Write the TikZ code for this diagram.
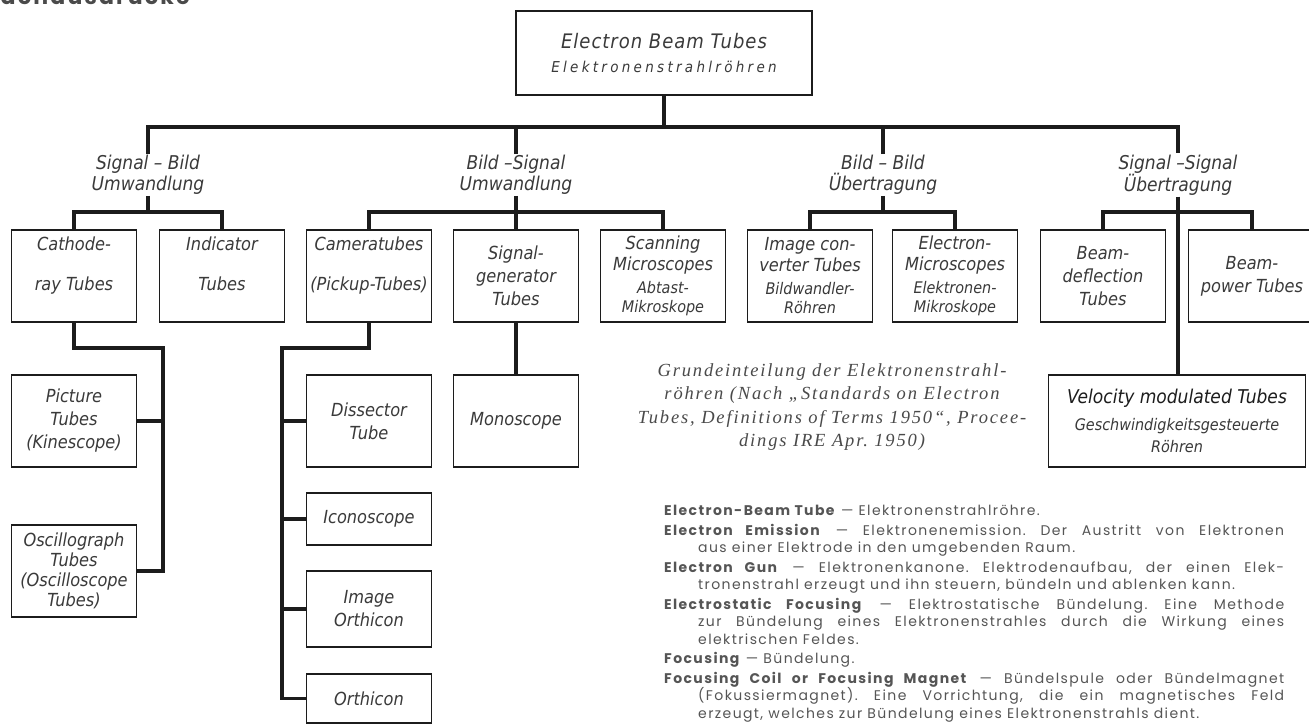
\documentclass[tikz,border=0pt]{standalone}
\usepackage{fontspec}
\newfontfamily\tubefont{DejaVu Sans Condensed}
\newfontfamily\widetube[LetterSpace=22]{DejaVu Sans Condensed}
\newfontfamily\capfont[LetterSpace=10]{Liberation Serif}
\newfontfamily\glossfont[LetterSpace=10]{Poppins}
\definecolor{ink}{HTML}{1C1C1C}
\definecolor{pencil}{HTML}{3A3A3A}
\definecolor{print}{HTML}{4A4A4A}
\definecolor{faint}{HTML}{555555}
\newcommand\smalltube{\fontsize{16}{19}\selectfont}

\begin{document}
\begin{tikzpicture}[x=1pt, y=-1pt,
  tube/.style={draw=ink, line width=1.5pt, align=center, inner sep=2pt,
    minimum width=125pt, minimum height=92pt, text=pencil,
    font=\tubefont\itshape\fontsize{18}{23}\selectfont},
  high/.style={text depth=25pt},
  branch/.style={align=center, inner sep=1pt, text=pencil,
    font=\tubefont\itshape\fontsize{19}{21}\selectfont},
  link/.style={draw=ink, line width=3.5pt},
  note/.style={align=center, text=print, font=\capfont\itshape\fontsize{18.5}{23.3}\selectfont},
  gloss/.style={text width=620pt, align=justify, inner sep=0pt, text=faint,
    font=\glossfont\fontsize{14}{17.5}\selectfont}
]
\fill[white] (0,0) rectangle (1309,724);
\useasboundingbox (0,0) rectangle (1309,724);

\node[anchor=base west, text=print, font=\glossfont\bfseries\fontsize{22}{22}\selectfont] (heading) at (-17,4) {Fachausdrücke};

\node[tube, minimum width=296pt, minimum height=84pt] (root) at (664,53) {{\addfontfeature{LetterSpace=5}\fontsize{20}{24}\selectfont Electron Beam Tubes}\\[1pt]{\widetube\itshape\fontsize{15}{18}\selectfont Elektronenstrahlröhren}};

\node[branch] (sigbild) at (148,175) {Signal – Bild\\Umwandlung};
\node[branch] (bildsig) at (516,175) {Bild –Signal\\Umwandlung};
\node[branch] (bildbild) at (883,175) {Bild – Bild\\Übertragung};
\node[branch] (sigsig) at (1178,175) {Signal –Signal\\Übertragung};

\node[tube, high] (cathode) at (74,276) {Cathode-\\[17pt]ray Tubes};
\node[tube, high] (indicator) at (222,276) {Indicator\\[17pt]Tubes};
\node[tube, high] (camera) at (369,276) {Cameratubes\\[17pt](Pickup-Tubes)};
\node[tube] (siggen) at (516,276) {Signal-\\generator\\Tubes};
\node[tube] (scanning) at (663,276) {Scanning\\[-2pt]Microscopes\\{\smalltube Abtast-}\\[-4pt]{\smalltube Mikroskope}};
\node[tube] (imgconv) at (810,276) {Image con-\\[-2pt]verter Tubes\\{\smalltube Bildwandler-}\\[-4pt]{\smalltube Röhren}};
\node[tube] (elmicro) at (955,276) {Electron-\\[-2pt]Microscopes\\{\smalltube Elektronen-}\\[-4pt]{\smalltube Mikroskope}};
\node[tube] (deflect) at (1103,276) {Beam-\\deflection\\Tubes};
\node[tube, minimum width=127pt] (power) at (1252,276) {Beam-\\power Tubes};

\node[tube] (picture) at (74,421) {Picture\\Tubes\\(Kinescope)};
\node[tube] (oscillo) at (74,571) {Oscillograph\\[-3pt]Tubes\\[-3pt](Oscilloscope\\[-3pt]Tubes)};
\node[tube] (dissector) at (369,421) {Dissector\\Tube};
\node[tube, minimum height=52pt] (icono) at (369,519) {Iconoscope};
\node[tube, minimum height=76pt] (imgorth) at (369,609) {Image\\Orthicon};
\node[tube, minimum height=49pt] (orthicon) at (369,698.5) {Orthicon};
\node[tube] (monoscope) at (516,421) {Monoscope};
\node[tube, minimum width=257pt] (velocity) at (1177,421) {{\color{ink}\fontsize{19}{23}\selectfont Velocity modulated Tubes}\\[4pt]{\fontsize{16}{19}\selectfont Geschwindigkeitsgesteuerte}\\[-1pt]{\fontsize{16}{19}\selectfont Röhren}};

\node[note] (caption) at (832,407) {Grundeinteilung der Elektronenstrahl-\\röhren (Nach „Standards on Electron\\Tubes, Definitions of Terms 1950“, Procee-\\dings IRE Apr.\ 1950)};

\node[gloss, anchor=north west] (terms) at (664,505) {\parindent=0pt\tolerance=10000\hyphenpenalty=10000\parskip=2pt\frenchspacing
\hangindent=34pt\hangafter=1 \textbf{Electron-Beam Tube} — Elektronenstrahlröhre.\par
\hangindent=34pt\hangafter=1 \textbf{Electron Emission} — Elektronenemission. Der Austritt von Elektronen\linebreak aus einer Elektrode in den umgebenden Raum.\par
\hangindent=34pt\hangafter=1 \textbf{Electron Gun} — Elektronenkanone. Elektrodenaufbau, der einen Elek-\linebreak tronenstrahl erzeugt und ihn steuern, bündeln und ablenken kann.\par
\hangindent=34pt\hangafter=1 \textbf{Electrostatic Focusing} — Elektrostatische Bündelung. Eine Methode\linebreak zur Bündelung eines Elektronenstrahles durch die Wirkung eines\linebreak elektrischen Feldes.\par
\hangindent=34pt\hangafter=1 \textbf{Focusing} — Bündelung.\par
\hangindent=34pt\hangafter=1 \textbf{Focusing Coil or Focusing Magnet} — Bündelspule oder Bündelmagnet\linebreak (Fokussiermagnet). Eine Vorrichtung, die ein magnetisches Feld\linebreak erzeugt, welches zur Bündelung eines Elektronenstrahls dient.\par};

\coordinate (bus) at (664,127);
\coordinate (sbj) at (148,212);
\coordinate (bsj) at (516,212);
\coordinate (bbj) at (883,212);
\coordinate (ssj) at (1178,212);
\coordinate (crt) at (163,348);
\coordinate (cam) at (282,348);

\draw[link] (root) -- (bus);
\draw[link] (sigbild.north) |- (bus) -| (sigsig.north);
\draw[link] (bildsig.north) -- (bildsig.north |- bus);
\draw[link] (bildbild.north) -- (bildbild.north |- bus);

\draw[link] (sigbild.south) -- (sbj);
\draw[link] (cathode.north) |- (sbj) -| (indicator.north);
\draw[link] (bildsig.south) -- (siggen.north);
\draw[link] (camera.north) |- (bsj) -| (scanning.north);
\draw[link] (bildbild.south) -- (bbj);
\draw[link] (imgconv.north) |- (bbj) -| (elmicro.north);
\draw[link] (sigsig.south) -- (sigsig.south |- velocity.north);
\draw[link] (deflect.north) |- (ssj) -| (power.north);

\draw[link] (cathode.south) |- (crt) |- (oscillo.east);
\draw[link] (picture.east) -- (picture.east -| crt);
\draw[link] (camera.south) |- (cam) |- (orthicon.west);
\foreach \t in {dissector,icono,imgorth}
  \draw[link] (\t.west) -- (\t.west -| cam);
\draw[link] (siggen) -- (monoscope);
\end{tikzpicture}
\end{document}
